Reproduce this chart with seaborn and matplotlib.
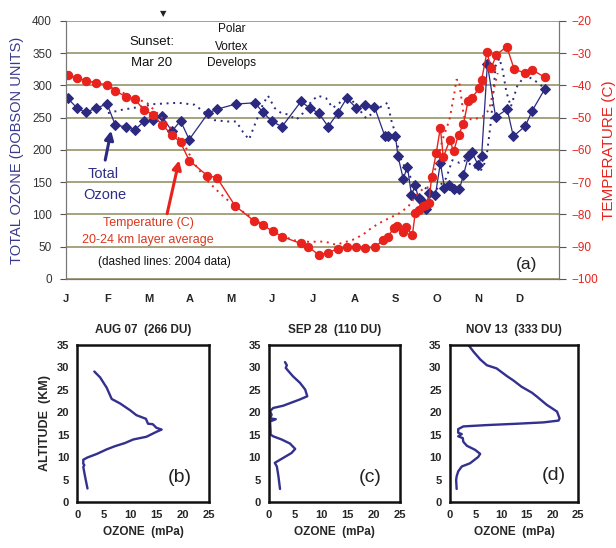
import seaborn as sns
import matplotlib.pyplot as plt

# top panel: time in months since Jan 1
oz05_t = [0.04, 0.27, 0.48, 0.74, 1.00, 1.20, 1.45, 1.67, 1.89, 2.11, 2.33, 2.57, 2.78, 2.99, 3.45, 3.66,
          4.12, 4.58, 4.78, 5.00, 5.24, 5.70, 5.91, 6.13, 6.36, 6.59, 6.81, 7.04, 7.26, 7.48, 7.73, 7.82,
          7.99, 8.05, 8.18, 8.28, 8.38, 8.47, 8.55, 8.62, 8.72, 8.81, 8.96, 9.08, 9.18, 9.30, 9.42, 9.54,
          9.64, 9.76, 9.85, 10.00, 10.08, 10.22, 10.42, 10.70, 10.85, 11.14, 11.31, 11.61]
oz05_du = [280, 265, 258, 265, 271, 238, 236, 231, 244, 247, 252, 229, 245, 216, 257, 263,
           271, 273, 258, 244, 236, 275, 265, 257, 236, 257, 280, 265, 269, 267, 222, 222,
           222, 191, 155, 174, 130, 145, 125, 122, 108, 133, 130, 180, 141, 145, 139, 139,
           161, 190, 196, 176, 190, 333, 251, 263, 221, 237, 261, 294]

oz04_t = [1.02, 1.35, 1.83, 2.15, 2.72, 3.12, 3.61, 3.92, 4.13, 4.29, 4.44, 4.58, 4.78, 4.90, 5.06, 5.22,
          5.38, 5.59, 5.75, 5.95, 6.11, 6.31, 6.47, 6.68, 6.84, 7.02, 7.28, 7.44, 7.64, 7.80, 7.89, 8.01,
          8.09, 8.25, 8.40, 8.52, 8.69, 8.86, 9.01, 9.22, 9.37, 9.54, 9.70, 9.86, 10.07, 10.19, 10.31,
          10.42, 10.51, 10.59, 10.68, 10.79, 10.95, 11.15, 11.40, 11.56]
oz04_du = [257, 262, 267, 271, 273, 270, 246, 244, 244, 228, 216, 239, 271, 284, 265, 257,
           255, 247, 257, 275, 284, 280, 265, 275, 285, 270, 249, 257, 267, 273, 246, 221,
           190, 169, 153, 146, 142, 135, 140, 156, 184, 180, 184, 174, 169, 184, 246,
           330, 342, 324, 290, 267, 300, 316, 306, 298]

temp05_t = [0.04, 0.27, 0.48, 0.74, 1.00, 1.20, 1.45, 1.67, 1.89, 2.11, 2.33, 2.57, 2.78, 2.99, 3.43, 3.66,
            4.10, 4.55, 4.77, 5.01, 5.25, 5.69, 5.88, 6.14, 6.36, 6.59, 6.81, 7.04, 7.26, 7.49, 7.70, 7.80,
            7.95, 8.02, 8.18, 8.24, 8.40, 8.47, 8.56, 8.66, 8.74, 8.80, 8.87, 8.98, 9.08, 9.15, 9.31, 9.40,
            9.52, 9.64, 9.75, 9.85, 10.02, 10.08, 10.21, 10.31, 10.44, 10.69, 10.87, 11.14, 11.31, 11.61]
temp05_c = [-36.7, -37.6, -38.5, -39.3, -39.8, -41.7, -43.5, -44.3, -47.6, -49.1, -52.2, -55.3, -57.7, -63.3,
            -68.0, -68.6, -77.3, -81.9, -83.2, -85.2, -86.9, -89.0, -90.1, -92.6, -91.9, -90.6, -90.2, -90.2,
            -90.5, -90.1, -87.9, -86.9, -84.3, -83.7, -85.3, -83.8, -86.5, -79.6, -78.6, -77.5, -77.0, -76.4,
            -68.3, -61.0, -53.1, -62.3, -56.9, -60.5, -55.3, -52.0, -45.0, -43.8, -40.9, -38.3, -29.7, -34.7,
            -30.5, -28.0, -35.0, -36.2, -35.2, -37.5]

temp04_t = [0.0, 0.5, 1.0, 1.5, 1.97, 2.4, 2.9, 3.1, 3.41, 3.73, 4.05, 4.5, 5.0, 5.5, 5.9, 6.27, 6.55, 6.95,
            7.2, 7.4, 7.6, 7.8, 8.09, 8.3, 8.47, 8.63, 8.76, 8.98, 9.13, 9.3, 9.42, 9.47, 9.53, 9.6, 9.65,
            9.86, 10.1, 10.26, 10.38, 10.47]
temp04_c = [-37, -38.5, -40, -43, -45.5, -51, -59, -64, -69.3, -73.4, -77, -81, -85, -88, -88.5, -88.4,
            -89.4, -87.9, -86.3, -84.3, -82.7, -81.4, -79.6, -77.6, -74.5, -72.4, -71.9, -65.2, -56.9, -50.7,
            -42.4, -38.3, -38.3, -45, -49.7, -50.7, -49.7, -47.6, -40.9, -36.2]

months = ["J", "F", "M", "A", "M", "J", "J", "A", "S", "O", "N", "D"]

# sonde profiles: ozone partial pressure (mPa) vs altitude (km)
aug_oz = [3.2, 4.3, 5.55, 6.5, 8.1, 10.0, 11.2, 13.0, 13.4, 14.3, 15.0, 16.0, 15.0, 13.1, 10.6, 9.0,
          7.1, 5.55, 3.7, 1.9, 1.1, 1.1, 1.3, 1.1, 1.45, 1.9]
aug_alt = [29.0, 27.7, 25.4, 22.9, 21.9, 20.4, 19.3, 18.5, 17.4, 17.3, 16.5, 16.1, 15.6, 14.5, 13.9, 13.1,
           12.4, 11.7, 10.7, 9.9, 9.4, 8.5, 8.2, 7.8, 5.6, 3.0]
sep_oz = [3.05, 3.4, 3.2, 3.7, 4.6, 5.9, 6.9, 7.3, 5.9, 2.7, 0.8, 0.2, 0.5, 0.2, 1.3, 0.2, 0.3, 0.3,
          0.8, 2.4, 4.0, 5.0, 4.3, 2.7, 1.1, 1.5, 1.8, 2.1]
sep_alt = [31.1, 30.4, 29.8, 29.1, 27.9, 26.5, 25.0, 23.5, 22.8, 21.4, 20.9, 20.2, 19.4, 18.6, 18.4, 17.9,
           15.7, 15.0, 14.6, 13.9, 13.0, 11.8, 10.9, 9.8, 8.7, 7.9, 5.7, 2.9]
nov_oz = [3.6, 4.6, 5.9, 7.2, 9.1, 11.1, 12.4, 14.0, 16.0, 17.0, 18.9, 20.9, 21.4, 21.2, 18.3, 13.1, 7.2,
          2.6, 1.6, 1.6, 2.3, 1.6, 2.5, 2.6, 3.3, 4.9, 5.9, 5.5, 3.9, 2.3, 1.6, 1.3, 1.2, 1.3]
nov_alt = [34.9, 33.4, 31.7, 30.4, 29.7, 28.0, 27.0, 25.6, 24.3, 23.4, 21.6, 20.1, 18.6, 18.1, 17.7, 17.4,
           17.1, 16.8, 16.2, 15.4, 15.1, 14.6, 14.2, 13.4, 12.5, 11.6, 10.7, 10.0, 8.6, 7.9, 6.8, 5.7, 4.9, 2.9]

sns.set_style("white")
plt.rcParams["font.family"] = ["Liberation Sans", "DejaVu Sans"]

BLUE = "#2b2a80"
RED = "#e8221c"
GRID = "#8e8a5c"
PROF = "#33308e"

fig = plt.figure(figsize=(6.16, 5.48), dpi=100)

# ---- panel (a)
ax = fig.add_axes([0.107, 0.491, 0.800, 0.471])
ax2 = ax.twinx()

sns.lineplot(x=oz04_t, y=oz04_du, ax=ax, color=BLUE, lw=1.4, linestyle=(0, (1, 2.4)),
             estimator=None, sort=False)
sns.lineplot(x=oz05_t, y=oz05_du, ax=ax, color=BLUE, lw=0.9, marker="D", markersize=4.8,
             markeredgecolor=BLUE, estimator=None, sort=False)
sns.lineplot(x=temp04_t, y=temp04_c, ax=ax2, color=RED, lw=1.4, linestyle=(0, (1, 2.4)),
             estimator=None, sort=False)
sns.lineplot(x=temp05_t, y=temp05_c, ax=ax2, color=RED, lw=1.0, marker="o", markersize=6,
             markeredgecolor=RED, estimator=None, sort=False)

ax.set_xlim(0, 11.95)
ax.set_ylim(0, 400)
ax2.set_ylim(-100, -20)
ax.set_yticks(range(0, 401, 50))
ax2.set_yticks(range(-100, -19, 10))
ax.set_xticks(range(12))
ax.set_xticklabels(months, fontweight="bold")
ax.yaxis.grid(True, color=GRID, lw=1.1)
ax.set_axisbelow(True)
for a in (ax, ax2):
    for s in a.spines.values():
        s.set_color("#777777")
    a.spines["top"].set_visible(False)
ax.tick_params(axis="x", direction="inout", length=7, color="#555555", labelsize=8, pad=7)
ax.tick_params(axis="y", direction="out", length=4, color="#555555", labelsize=8.5, pad=6,
               labelcolor="#333333")
ax2.tick_params(axis="y", direction="out", length=5, color="#555555", labelsize=8.5, pad=4,
                labelcolor=RED)
ax.set_ylabel("TOTAL OZONE (DOBSON UNITS)", color="#3a3a8e", fontsize=10.5, labelpad=6)
ax2.set_ylabel("TEMPERATURE (C)", color=RED, fontsize=11, labelpad=3)

ax.text(2.35, 412, "\u25bc", ha="center", va="center", fontsize=6, family="DejaVu Sans",
        color="#222222", clip_on=False)
ax.text(2.08, 367, "Sunset:", ha="center", va="center", fontsize=9.5, color="#111111")
ax.text(2.08, 335, "Mar 20", ha="center", va="center", fontsize=9.5, color="#111111")
ax.text(4.02, 387, "Polar", ha="center", va="center", fontsize=8.5, color="#111111")
ax.text(4.02, 360, "Vortex", ha="center", va="center", fontsize=8.5, color="#111111")
ax.text(4.02, 334, "Develops", ha="center", va="center", fontsize=8.5, color="#111111")
ax.text(0.9, 162, "Total", ha="center", va="center", fontsize=10.5, color="#2e2e86")
ax.text(0.94, 130, "Ozone", ha="center", va="center", fontsize=10.5, color="#2e2e86")
ax.text(2.01, 87, "Temperature (C)", ha="center", va="center", fontsize=9, color="#d9381e")
ax.text(1.98, 61, "20-24 km layer average", ha="center", va="center", fontsize=9, color="#d9381e")
ax.text(2.4, 27, "(dashed lines: 2004 data)", ha="center", va="center", fontsize=8.5, color="#111111")
ax.text(11.18, 22, "(a)", ha="center", va="center", fontsize=12.5, color="#222222")
ax.annotate("", xy=(1.11, 234), xytext=(0.94, 180),
            arrowprops=dict(arrowstyle="-|>", color=BLUE, lw=2.2, mutation_scale=13))
ax.annotate("", xy=(2.76, 188), xytext=(2.44, 97),
            arrowprops=dict(arrowstyle="-|>", color=RED, lw=2.2, mutation_scale=13))

# ---- profile panels (b), (c), (d)
profiles = [
    (aug_oz, aug_alt, "AUG 07  (266 DU)", "(b)", 0.1258, 0.2135, (19.5, 5.5)),
    (sep_oz, sep_alt, "SEP 28  (110 DU)", "(c)", 0.4367, 0.2127, (19.3, 5.4)),
    (nov_oz, nov_alt, "NOV 13  (333 DU)", "(d)", 0.7305, 0.2078, (20.2, 6.0)),
]
for i, (oz, alt, title, tag, left, width, tagpos) in enumerate(profiles):
    axp = fig.add_axes([left, 0.0839, width, 0.2874])
    sns.lineplot(x=oz, y=alt, ax=axp, color=PROF, lw=1.7, estimator=None, sort=False)
    axp.set_xlim(0, 25)
    axp.set_ylim(0, 35)
    axp.set_xticks(range(0, 26, 5))
    axp.set_yticks(range(0, 36, 5))
    for s in axp.spines.values():
        s.set_color("#111111")
        s.set_linewidth(1.8)
    axp.tick_params(direction="out", length=3, width=1, labelsize=8, pad=3)
    for lab in axp.get_xticklabels() + axp.get_yticklabels():
        lab.set_fontweight("bold")
    axp.set_title(title, fontsize=8.5, fontweight="bold", pad=8)
    axp.set_xlabel("OZONE  (mPa)", fontsize=8.5, fontweight="bold", labelpad=4)
    if i == 0:
        axp.set_ylabel("ALTITUDE  (KM)", fontsize=9, fontweight="bold", labelpad=4)
    axp.text(tagpos[0], tagpos[1], tag, ha="center", va="center", fontsize=14, color="#222222")

fig.savefig("out.png", dpi=100)
